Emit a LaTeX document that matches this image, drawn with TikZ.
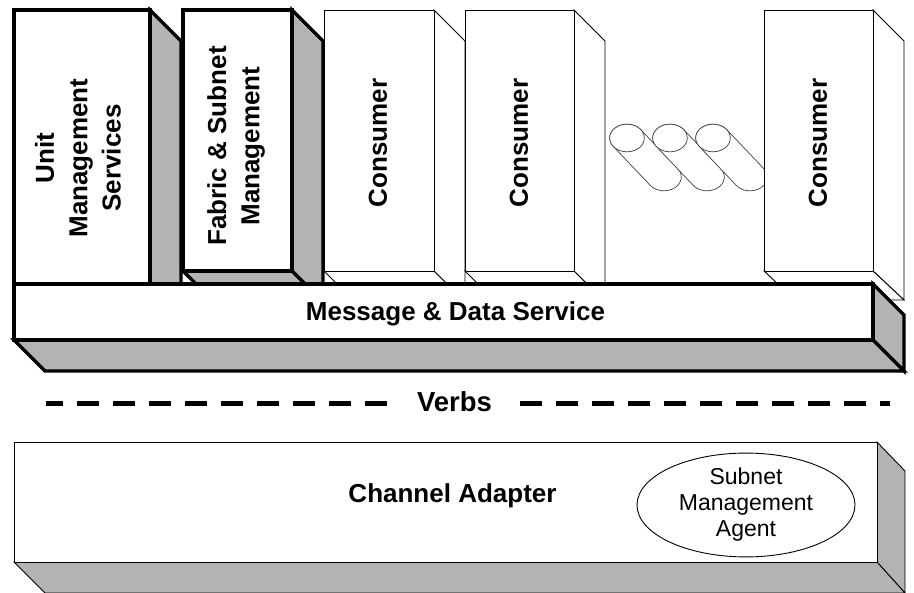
\documentclass[tikz,border=0pt]{standalone}
\usepackage{fontspec}
\setmainfont{Liberation Sans}
\usetikzlibrary{shapes.geometric,calc}
\definecolor{shade}{RGB}{179,179,179}
\begin{document}
\begin{tikzpicture}[x=1pt,y=-1pt,
  thickln/.style={line width=3.2pt,line join=miter,draw=black},
  thinln/.style={line width=0.9pt,draw=black},
  face/.style={fill=white},
  sideface/.style={fill=shade},
  cyl/.style={line width=0.7pt,draw=black!75,fill=white},
  boldlabel/.style={font=\fontsize{26pt}{33.3pt}\selectfont\bfseries,align=center,inner sep=0pt},
  verbslabel/.style={font=\fontsize{27.5pt}{33pt}\selectfont\bfseries,inner sep=0pt},
  agentlabel/.style={ellipse,thinln,fill=white,minimum width=218pt,minimum height=102pt,inner sep=0pt,
    font=\fontsize{23pt}{26pt}\selectfont,align=center},
  dashln/.style={line width=5pt,line cap=butt,dash pattern=on 22pt off 14pt}
]
\useasboundingbox (0,0) rectangle (914,593);

% cylinders
\foreach \cx in {627,670,713} {
  \draw[cyl] (\cx+13.8,129.68) -- ++(37,39)
    arc[start angle=-37.1,end angle=142.9,x radius=17.3,y radius=13.8]
    -- ++(-37,-39)
    arc[start angle=142.9,end angle=322.9,x radius=17.3,y radius=13.8] -- cycle;
  \draw[cyl] (\cx,138) ellipse[x radius=17.3,y radius=13.8];
}

% consumer 1
\draw[thinln,face] (434,10) -- (465,41) -- (465,302) -- (434,271) -- cycle;
\draw[thinln,face] (324,271) -- (434,271) -- (465,302) -- (355,302) -- cycle;
\draw[thinln,face] (324,10) rectangle (434,271);
% consumer 2
\draw[thinln,face] (574,10) -- (605,41) -- (605,302) -- (574,271) -- cycle;
\draw[thinln,face] (465,271) -- (574,271) -- (605,302) -- (496,302) -- cycle;
\draw[thinln,face] (465,10) rectangle (574,271);
% consumer 3
\draw[thinln,face] (873,10) -- (904,41) -- (904,300) -- (873,271) -- cycle;
\draw[thinln,face] (764,271) -- (873,271) -- (904,300) -- (795,300) -- cycle;
\draw[thinln,face] (764,10) rectangle (873,271);

\node[boldlabel,rotate=90] (cons1) at (378,143) {Consumer};
\node[boldlabel,rotate=90] (cons2) at (519,143) {Consumer};
\node[boldlabel,rotate=90] (cons3) at (818,143) {Consumer};

% unit management services
\draw[thickln,sideface] (150,10) -- (181,41) -- (181,321) -- (150,290) -- cycle;
\draw[thickln,face] (14,10) rectangle (150,290);
\node[boldlabel,rotate=90] (ums) at (78,158) {Unit\\Management\\Services};

% fabric & subnet management
\draw[thickln,sideface] (292,10) -- (323,41) -- (323,302) -- (292,271) -- cycle;
\draw[thickln,sideface] (183,271) -- (292,271) -- (323,302) -- (214,302) -- cycle;
\draw[thickln,face] (183,10) rectangle (292,271);
\node[boldlabel,rotate=90] (fsm) at (236,146) {Fabric \& Subnet\\Management};

% message & data service
\draw[thickln,sideface] (873,284) -- (904,315) -- (904,371) -- (873,340) -- cycle;
\draw[thickln,sideface] (14,340) -- (873,340) -- (904,371) -- (45,371) -- cycle;
\draw[thickln,face] (14,284) rectangle (873,340);
\node[boldlabel,anchor=base] (mds) at (455.5,321) {Message \& Data Service};

% verbs
\node[verbslabel,anchor=base] (verbs) at (454.5,412) {Verbs};
\coordinate (vl1) at (387,404);
\coordinate (vl2) at (46,404);
\coordinate (vr1) at (520,404);
\coordinate (vr2) at (890,404);
\draw[dashln] (vl1) -- (vl2);
\draw[dashln] (vr1) -- (vr2);

% channel adapter
\draw[thinln,sideface] (877,442) -- (905,471) -- (905,593) -- (877,562) -- cycle;
\draw[thinln,sideface] (14,562) -- (877,562) -- (905,593) -- (45,593) -- cycle;
\draw[thinln,face] (14,442) rectangle (877,562);
\node[boldlabel,anchor=base] (ca) at (452.5,503) {Channel Adapter};
\node[agentlabel] (sma) at (746,505) {Subnet\\Management\\Agent};
\end{tikzpicture}
\end{document}
